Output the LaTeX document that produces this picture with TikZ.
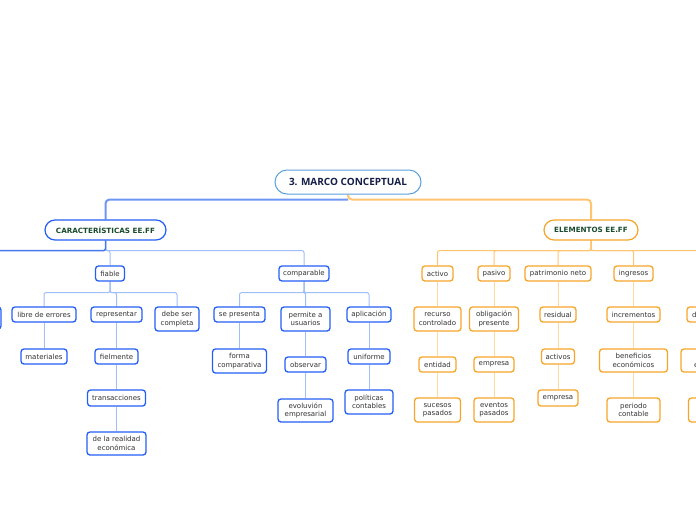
\documentclass[tikz,border=0pt]{standalone}
\usepackage{fontspec}
\setmainfont{DejaVu Sans}
\newfontfamily\rootfont{Open Sans}
\definecolor{boxblue}{RGB}{35,95,245}
\definecolor{boxorange}{RGB}{247,165,40}
\definecolor{rootline}{RGB}{90,160,220}
\definecolor{rootblue}{RGB}{110,150,245}
\definecolor{darkblue}{RGB}{70,120,240}
\definecolor{lightblue}{RGB}{160,190,250}
\definecolor{rootorange}{RGB}{255,196,110}
\definecolor{lightorange}{RGB}{255,215,160}
\definecolor{txt}{RGB}{50,50,50}
\definecolor{navy}{RGB}{20,30,70}
\definecolor{dgreen}{RGB}{25,75,45}
\pgfdeclarelayer{bg}
\pgfsetlayers{bg,main}
\tikzset{
  box/.style={line width=1.3pt, rounded corners=3pt, fill=white, text=txt,
    font=\fontsize{7}{8.3}\selectfont, align=center, inner sep=0pt, minimum height=15pt},
  bbox/.style={box, draw=boxblue},
  obox/.style={box, draw=boxorange},
  two/.style={minimum height=24pt},
  lvlone/.style={line width=1.2pt, rounded corners=10pt, fill=white, text=dgreen,
    font=\fontsize{7.2}{8}\selectfont\bfseries, inner sep=0pt, minimum height=20pt},
  rootbox/.style={draw=rootline, line width=1pt, rounded corners=12pt, fill=white, text=navy,
    font=\rootfont\fontsize{10}{12}\selectfont\bfseries, inner sep=0pt, minimum height=24pt, minimum width=146pt},
  conn/.style={line width=1pt, rounded corners=2pt},
}
\begin{document}
\begin{tikzpicture}[x=1pt,y=-1pt]
\useasboundingbox (0,0) rectangle (696,520);
\clip (0,0) rectangle (696,520);
% root and level one
\node[rootbox] (root) at (348,182) {3. MARCO CONCEPTUAL};
\node[lvlone, draw=boxblue, minimum width=121pt] (carac) at (105.5,230) {CARACTERÍSTICAS EE.FF};
\node[lvlone, draw=boxorange, minimum width=94pt] (elem) at (591,230) {ELEMENTOS EE.FF};
% left side
\coordinate (leftend) at (-25,273.5);
\node[bbox, minimum width=52pt, minimum height=22pt] (leftbox) at (-25,318) {};
\node[bbox, minimum width=29pt] (fiable) at (110,273.5) {fiable};
\node[bbox, minimum width=50pt] (comparable) at (304,273.5) {comparable};
\node[bbox, minimum width=64pt] (libre) at (44,314.5) {libre de errores};
\node[bbox, minimum width=51pt] (representar) at (116.5,314.5) {representar};
\node[bbox, two, minimum width=44pt] (debe) at (177,319) {debe ser\\completa};
\node[bbox, minimum width=46pt] (materiales) at (44,356.5) {materiales};
\node[bbox, minimum width=43pt] (fielmente) at (116.5,356.5) {fielmente};
\node[bbox, minimum width=58pt, minimum height=16pt] (transacciones) at (116.5,398) {transacciones};
\node[bbox, minimum width=59pt, minimum height=23pt] (realidad) at (116.5,443.5) {de la realidad\\económica};
\node[bbox, minimum width=51pt] (sepresenta) at (239.5,314.5) {se presenta};
\node[bbox, two, minimum width=49pt] (permite) at (305.5,319) {permite a\\usuarios};
\node[bbox, minimum width=44pt] (aplicacion) at (369,314.5) {aplicación};
\node[bbox, two, minimum width=54pt] (forma) at (239.5,361) {forma\\comparativa};
\node[bbox, minimum width=41pt] (observar) at (305.5,364.5) {observar};
\node[bbox, minimum width=42pt] (uniforme) at (369,356.5) {uniforme};
\node[bbox, minimum width=55pt, minimum height=23pt] (evolucion) at (305.5,410.5) {evoluvión\\empresarial};
\node[bbox, two, minimum width=48pt] (politicas) at (369,402) {políticas\\contables};
% right side
\node[obox, minimum width=31pt] (activo) at (437.5,273.5) {activo};
\node[obox, minimum width=32pt] (pasivo) at (494,273.5) {pasivo};
\node[obox, minimum width=66pt] (patrimonio) at (558,273.5) {patrimonio neto};
\node[obox, minimum width=39pt] (ingresos) at (633.5,273.5) {ingresos};
\node[obox, minimum width=35pt] (gastos) at (715,273.5) {gastos};
\node[obox, two, minimum width=47pt] (recurso) at (437.5,319) {recurso\\controlado};
\node[obox, two, minimum width=49pt] (obligacion) at (494,319) {obligación\\presente};
\node[obox, minimum width=36pt] (residual) at (558,314.5) {residual};
\node[obox, minimum width=53pt] (incrementos) at (633.5,314.5) {incrementos};
\node[obox, minimum width=56pt] (decrementos) at (715,314.5) {decrementos};
\node[obox, minimum width=37pt] (entidad) at (437.5,364.5) {entidad};
\node[obox, minimum width=40pt] (empresaA) at (494,364.5) {empresa};
\node[obox, minimum width=33pt] (activos) at (558,356.5) {activos};
\node[obox, minimum width=68pt, minimum height=23pt] (beneficios) at (633.5,360.5) {beneficios\\económicos};
\node[obox, minimum width=68pt, minimum height=23pt] (beneficiosB) at (715,360.5) {beneficios\\económicos};
\node[obox, two, minimum width=46pt] (sucesos) at (437.5,410) {sucesos\\pasados};
\node[obox, two, minimum width=40pt] (eventos) at (494,410) {eventos\\pasados};
\node[obox, minimum width=40pt, minimum height=16pt] (empresaB) at (558,398) {empresa};
\node[obox, two, minimum width=53pt] (periodo) at (633.5,410) {periodo\\contable};
\node[obox, two, minimum width=53pt] (periodoB) at (715,410) {periodo\\contable};
\begin{pgfonlayer}{bg}
  % root connectors
  \draw[rootorange, line width=2pt, rounded corners=4pt] (root.south) -- ++(0,5) -| (elem.north);
  \draw[rootblue, line width=2pt, rounded corners=4pt] (root.south) ++(0,5) -| (carac.north);
  % characteristics
  \draw[lightblue, conn] (carac.south) -- ++(0,10) -| (fiable.north);
  \draw[lightblue, conn] (carac.south) -- ++(0,10) -| (comparable.north);
  \draw[darkblue, line width=1.5pt, rounded corners=2pt] (carac.south) -- ++(0,10) -| (leftend);
  \draw[lightblue, conn] (fiable.south) -- ++(0,11) -| (libre.north);
  \draw[lightblue, conn] (fiable.south) -- ++(0,11) -| (representar.north);
  \draw[lightblue, conn] (fiable.south) -- ++(0,11) -| (debe.north);
  \draw[lightblue, conn] (libre.south) -- (materiales.north);
  \draw[lightblue, conn] (representar.south) -- (fielmente.north);
  \draw[lightblue, conn] (fielmente.south) -- (transacciones.north);
  \draw[lightblue, conn] (transacciones.south) -- (realidad.north);
  \draw[lightblue, conn] (comparable.south) -- ++(0,11) -| (sepresenta.north);
  \draw[lightblue, conn] (comparable.south) -- ++(0,11) -| (permite.north);
  \draw[lightblue, conn] (comparable.south) -- ++(0,11) -| (aplicacion.north);
  \draw[lightblue, conn] (sepresenta.south) -- (forma.north);
  \draw[lightblue, conn] (permite.south) -- (observar.north);
  \draw[lightblue, conn] (observar.south) -- (evolucion.north);
  \draw[lightblue, conn] (aplicacion.south) -- (uniforme.north);
  \draw[lightblue, conn] (uniforme.south) -- (politicas.north);
  % elements
  \draw[rootorange, conn] (elem.south) -- ++(0,10) -| (activo.north);
  \draw[rootorange, conn] (elem.south) -- ++(0,10) -| (pasivo.north);
  \draw[rootorange, conn] (elem.south) -- ++(0,10) -| (patrimonio.north);
  \draw[rootorange, conn] (elem.south) -- ++(0,10) -| (ingresos.north);
  \draw[rootorange, conn] (elem.south) -- ++(0,10) -| (gastos.north);
  \draw[lightorange, conn] (activo.south) -- (recurso.north);
  \draw[lightorange, conn] (recurso.south) -- (entidad.north);
  \draw[lightorange, conn] (entidad.south) -- (sucesos.north);
  \draw[lightorange, conn] (pasivo.south) -- (obligacion.north);
  \draw[lightorange, conn] (obligacion.south) -- (empresaA.north);
  \draw[lightorange, conn] (empresaA.south) -- (eventos.north);
  \draw[lightorange, conn] (patrimonio.south) -- (residual.north);
  \draw[lightorange, conn] (residual.south) -- (activos.north);
  \draw[lightorange, conn] (activos.south) -- (empresaB.north);
  \draw[lightorange, conn] (ingresos.south) -- (incrementos.north);
  \draw[lightorange, conn] (incrementos.south) -- (beneficios.north);
  \draw[lightorange, conn] (beneficios.south) -- (periodo.north);
  \draw[lightorange, conn] (gastos.south) -- (decrementos.north);
  \draw[lightorange, conn] (decrementos.south) -- (beneficiosB.north);
  \draw[lightorange, conn] (beneficiosB.south) -- (periodoB.north);
\end{pgfonlayer}
\end{tikzpicture}
\end{document}
